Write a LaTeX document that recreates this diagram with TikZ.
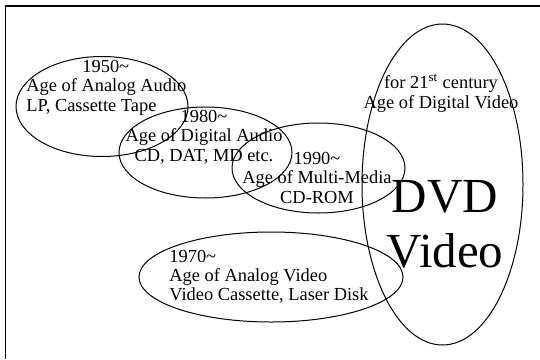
\documentclass[tikz,border=0pt]{standalone}
\usepackage{fontspec}
\setmainfont{Liberation Serif}
\usetikzlibrary{shapes.geometric}

\begin{document}
\begin{tikzpicture}[x=0.5pt,y=-0.5pt,
        era/.style={shape=ellipse,draw=black,line width=0.5pt,inner sep=0pt},
        caption/.style={font=\fontsize{9.2}{9.65}\selectfont,inner sep=0pt},
        bigcaption/.style={font=\fontsize{24.5}{27.5}\selectfont,inner sep=0pt,align=center}]
        \useasboundingbox (0,0) rectangle (540,359);
        % frame, only two sides are seen
        \coordinate (fa) at (5.3,359);
        \coordinate (fb) at (5.3,6);
        \coordinate (fc) at (540,6);
        \draw[line width=0.7pt] (fa) -- (fb) -- (fc);

        % the ages
        \node[era,minimum width=86pt,minimum height=50pt] (audio50) at (102,106.5) {};
        \node[era,minimum width=86.5pt,minimum height=45.5pt] (audio80) at (205.5,152.5) {};
        \node[era,minimum width=86.5pt,minimum height=45pt] (media90) at (318.5,168) {};
        \node[era,minimum width=132pt,minimum height=45pt] (video70) at (271,277) {};
        \node[era,minimum width=80.5pt,minimum height=160.5pt] (dvd) at (442.5,184.5) {};

        % texts, placed by the baseline of their last line
        \node[caption,align=left,anchor=base west] (t50) at (26,111)
            {\hspace*{28pt}1950\textasciitilde\\Age of Analog Audio\\LP, Cassette Tape};
        \node[caption,align=center,anchor=base] (t80) at (204,161)
            {1980\textasciitilde\\Age of Digital Audio\\CD, DAT, MD etc.};
        \node[caption,align=center,anchor=base] (t90) at (317,203)
            {1990\textasciitilde\\Age of Multi-Media\\CD-ROM};
        \node[caption,align=left,anchor=base west] (t70) at (169,300.7)
            {1970\textasciitilde\\Age of Analog Video\\Video Cassette, Laser Disk};
        \node[caption,align=center,anchor=base] (t21) at (441,108)
            {for 21\textsuperscript{st} century\\Age of Digital Video};
        \node[bigcaption,anchor=base] (tdvd) at (445,267) {DVD\\Video};
\end{tikzpicture}
\end{document}
